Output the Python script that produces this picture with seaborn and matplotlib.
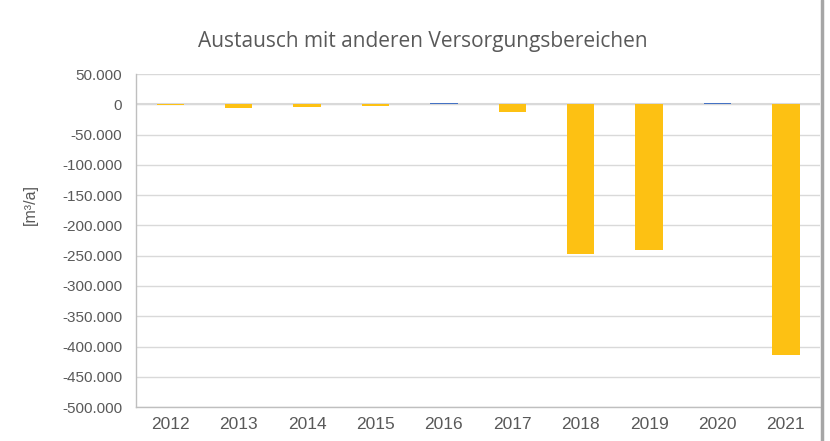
import pandas as pd
import matplotlib.pyplot as plt
import matplotlib.ticker as mticker
from matplotlib.lines import Line2D
import seaborn as sns

years = ["2012", "2013", "2014", "2015", "2016", "2017", "2018", "2019", "2020", "2021"]
values = [-1000, -6000, -4500, -3000, 2000, -12500, -247000, -241000, 2000, -414000]

df = pd.DataFrame({"Jahr": years, "Menge": values})
df["sign"] = ["pos" if v > 0 else "neg" for v in values]

sns.set_style("white")
plt.rcParams["font.family"] = ["Liberation Sans", "DejaVu Sans"]

fig = plt.figure(figsize=(8.3, 4.41), dpi=100)
ax = fig.add_axes([0.164, 0.077, 0.824, 0.755])
ax.set_axisbelow(True)

sns.barplot(data=df, x="Jahr", y="Menge", hue="sign",
            palette={"neg": "#FDC113", "pos": "#4472C4"},
            width=0.4, dodge=False, legend=False, saturation=1,
            linewidth=0, edgecolor="none", ax=ax)
for p in ax.patches:
    p.set_zorder(5)

ax.set_ylim(-500000, 50000)
ax.yaxis.set_major_locator(mticker.MultipleLocator(50000))
ax.yaxis.set_major_formatter(mticker.FuncFormatter(lambda v, p: f"{int(v):,}".replace(",", ".")))
ax.grid(axis="y", color="#d9d9d9", linewidth=1)
ax.axhline(0, color="#d9d9d9", linewidth=1.5, zorder=0.5)

for s in ["top", "right"]:
    ax.spines[s].set_visible(False)
for s in ["left", "bottom"]:
    ax.spines[s].set_color("#bfbfbf")
    ax.spines[s].set_linewidth(1)

ax.tick_params(axis="y", colors="#595959", labelsize=11, length=0, pad=10)
ax.tick_params(axis="x", colors="#595959", labelsize=12.5, length=0, pad=7)
ax.set_xlabel("")
ax.set_ylabel("[m³/a]", color="#595959", fontsize=11.5)
ax.yaxis.set_label_coords(-0.143, 0.607)

fig.text(0.51, 0.905, "Austausch mit anderen Versorgungsbereichen",
         ha="center", va="center", fontsize=15, color="#595959", family="Open Sans")

fig.add_artist(Line2D([0.99, 0.99], [0, 1], transform=fig.transFigure,
                      color="#a6a6a6", linewidth=2.5))

fig.savefig("out.png", dpi=100)
